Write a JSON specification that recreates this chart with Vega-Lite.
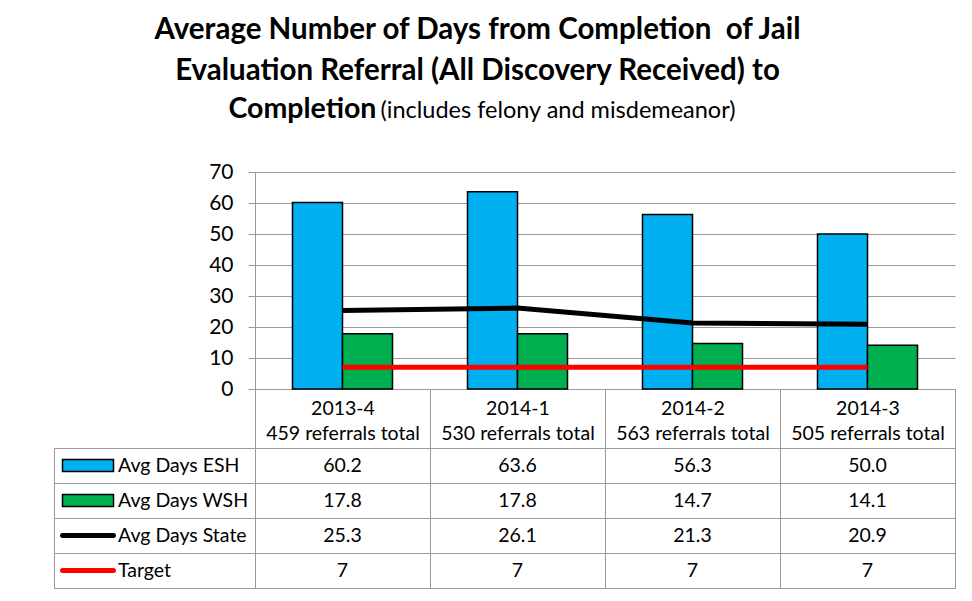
{
  "$schema": "https://vega.github.io/schema/vega-lite/v6.json",
  "background": "white",
  "padding": {"left": 53, "top": 14, "right": 14, "bottom": 8},
  "title": {
    "text": ["Average Number of Days from Completion \u00a0of Jail", "Evaluation Referral (All Discovery Received) to"],
    "anchor": "middle",
    "font": "Lato",
    "fontSize": 29.5,
    "fontWeight": "bold",
    "lineHeight": 41,
    "color": "black",
    "offset": 8,
    "dx": -27
  },
  "datasets": {
    "rows": [
      {"period": "2013-4\n459 referrals total", "series": "Avg Days ESH", "value": 60.2},
      {"period": "2014-1\n530 referrals total", "series": "Avg Days ESH", "value": 63.6},
      {"period": "2014-2\n563 referrals total", "series": "Avg Days ESH", "value": 56.3},
      {"period": "2014-3\n505 referrals total", "series": "Avg Days ESH", "value": 50.0},
      {"period": "2013-4\n459 referrals total", "series": "Avg Days WSH", "value": 17.8},
      {"period": "2014-1\n530 referrals total", "series": "Avg Days WSH", "value": 17.8},
      {"period": "2014-2\n563 referrals total", "series": "Avg Days WSH", "value": 14.7},
      {"period": "2014-3\n505 referrals total", "series": "Avg Days WSH", "value": 14.1},
      {"period": "2013-4\n459 referrals total", "series": "Avg Days State", "value": 25.3},
      {"period": "2014-1\n530 referrals total", "series": "Avg Days State", "value": 26.1},
      {"period": "2014-2\n563 referrals total", "series": "Avg Days State", "value": 21.3},
      {"period": "2014-3\n505 referrals total", "series": "Avg Days State", "value": 20.9},
      {"period": "2013-4\n459 referrals total", "series": "Target", "value": 7},
      {"period": "2014-1\n530 referrals total", "series": "Target", "value": 7},
      {"period": "2014-2\n563 referrals total", "series": "Target", "value": 7},
      {"period": "2014-3\n505 referrals total", "series": "Target", "value": 7}
    ]
  },
  "columns": 2,
  "bounds": "flush",
  "align": "each",
  "spacing": {"row": 59, "column": 0},
  "resolve": {
    "scale": {"x": "independent", "y": "independent"},
    "axis": {"x": "independent", "y": "independent"}
  },
  "concat": [
    {
      "width": 201,
      "height": 217,
      "data": {"values": []},
      "mark": "point"
    },
    {
      "width": 700,
      "height": 217,
      "data": {"name": "rows"},
      "encoding": {
        "x": {
          "field": "period", "type": "nominal", "sort": null,
          "scale": {"paddingInner": 0, "paddingOuter": 0},
          "axis": {
            "title": "Completion", "titleX": -27, "titleY": -272, "titleAlign": "left", "titleBaseline": "alphabetic",
            "titleFont": "Lato", "titleFontSize": 28.5, "titleFontWeight": "bold", "titleColor": "black",
            "orient": "bottom", "tickBand": "extent", "tickSize": 59,
            "tickColor": "#9a9a9a", "tickWidth": 1, "domainColor": "#9a9a9a", "domainWidth": 1,
            "labelExpr": "split(datum.label, '\\n')", "labelAngle": 0, "labelAlign": "center",
            "labelBaseline": "top", "labelPadding": -49, "labelLineHeight": 25,
            "labelFont": "Lato", "labelFontSize": 19.5, "labelColor": "black", "labelLimit": 300,
            "grid": false
          }
        },
        "y": {
          "field": "value", "type": "quantitative",
          "scale": {"domain": [0, 70], "nice": false},
          "axis": {
            "title": "(includes felony and misdemeanor)", "titleAngle": 0, "titleX": 125, "titleY": -55,
            "titleAlign": "left", "titleBaseline": "alphabetic",
            "titleFont": "Lato", "titleFontSize": 23.5, "titleFontWeight": "normal", "titleColor": "black",
            "values": [0, 10, 20, 30, 40, 50, 60, 70],
            "labelFont": "Lato", "labelFontSize": 21, "labelColor": "black", "labelPadding": 15,
            "tickSize": 7, "tickColor": "#9a9a9a", "domainColor": "#9a9a9a",
            "grid": true, "gridColor": "#9a9a9a", "gridWidth": 1
          }
        },
        "color": {
          "field": "series", "type": "nominal",
          "scale": {"domain": ["Avg Days ESH", "Avg Days WSH", "Avg Days State", "Target"], "range": ["#00B0F0", "#00B050", "#000000", "#FF0000"]},
          "legend": null
        }
      },
      "layer": [
        {
          "transform": [{"filter": {"field": "series", "oneOf": ["Avg Days ESH", "Avg Days WSH"]}}],
          "mark": {"type": "bar", "stroke": "black", "strokeWidth": 1.5},
          "encoding": {
            "xOffset": {"field": "series", "type": "nominal", "scale": {"paddingInner": 0, "paddingOuter": 0.75}}
          }
        },
        {
          "transform": [{"filter": {"field": "series", "oneOf": ["Avg Days State", "Target"]}}],
          "mark": {"type": "line", "strokeWidth": 5},
          "encoding": {}
        }
      ]
    },
    {
      "width": 201,
      "height": 140,
      "view": {"stroke": "#9a9a9a", "strokeWidth": 1},
      "data": {"name": "rows"},
      "transform": [{"filter": {"field": "period", "equal": "2013-4\n459 referrals total"}}],
      "encoding": {
        "y": {
          "field": "series", "type": "nominal",
          "sort": ["Avg Days ESH", "Avg Days WSH", "Avg Days State", "Target"],
          "scale": {"paddingInner": 0, "paddingOuter": 0},
          "axis": {"title": null, "labels": false, "ticks": false, "domain": false, "grid": true, "tickBand": "extent", "gridColor": "#9a9a9a", "gridWidth": 1}
        },
        "color": {
          "field": "series", "type": "nominal",
          "scale": {"domain": ["Avg Days ESH", "Avg Days WSH", "Avg Days State", "Target"], "range": ["#00B0F0", "#00B050", "#000000", "#FF0000"]},
          "legend": null
        }
      },
      "layer": [
        {
          "transform": [{"filter": {"field": "series", "oneOf": ["Avg Days ESH", "Avg Days WSH"]}}],
          "mark": {"type": "tick", "orient": "horizontal", "thickness": 12, "size": 51, "stroke": "black", "strokeWidth": 1.5, "opacity": 1},
          "encoding": {
            "x": {"datum": "swatch", "type": "nominal", "scale": {"domain": ["swatch", "label"], "paddingInner": 0.0714, "paddingOuter": 0.83, "align": 0.086}, "axis": null}
          }
        },
        {
          "transform": [{"filter": {"field": "series", "oneOf": ["Avg Days State", "Target"]}}],
          "mark": {"type": "tick", "orient": "horizontal", "thickness": 5, "size": 56, "cornerRadius": 2.5, "opacity": 1},
          "encoding": {
            "x": {"datum": "swatch", "type": "nominal"}
          }
        },
        {
          "mark": {"type": "text", "align": "left", "baseline": "middle", "font": "Lato", "fontSize": 19.5, "color": "black"},
          "encoding": {
            "x": {"datum": "label", "type": "nominal", "bandPosition": 0},
            "text": {"field": "series", "type": "nominal"},
            "color": {"value": "black"}
          }
        }
      ]
    },
    {
      "width": 700,
      "height": 140,
      "view": {"stroke": "#9a9a9a", "strokeWidth": 1},
      "data": {"name": "rows"},
      "mark": {"type": "text", "font": "Lato", "fontSize": 19.5, "color": "black"},
      "encoding": {
        "x": {
          "field": "period", "type": "nominal", "sort": null,
          "scale": {"paddingInner": 0, "paddingOuter": 0},
          "axis": {"title": null, "labels": false, "ticks": false, "domain": false, "grid": true, "tickBand": "extent", "gridColor": "#9a9a9a", "gridWidth": 1}
        },
        "y": {
          "field": "series", "type": "nominal",
          "sort": ["Avg Days ESH", "Avg Days WSH", "Avg Days State", "Target"],
          "scale": {"paddingInner": 0, "paddingOuter": 0},
          "axis": {"title": null, "labels": false, "ticks": false, "domain": false, "grid": true, "tickBand": "extent", "gridColor": "#9a9a9a", "gridWidth": 1}
        },
        "text": {
          "condition": {"test": "datum.series === 'Target'", "field": "value", "type": "quantitative", "format": "d"},
          "field": "value", "type": "quantitative", "format": ".1f"
        }
      }
    }
  ],
  "config": {
    "view": {"stroke": null},
    "font": "Lato"
  }
}
